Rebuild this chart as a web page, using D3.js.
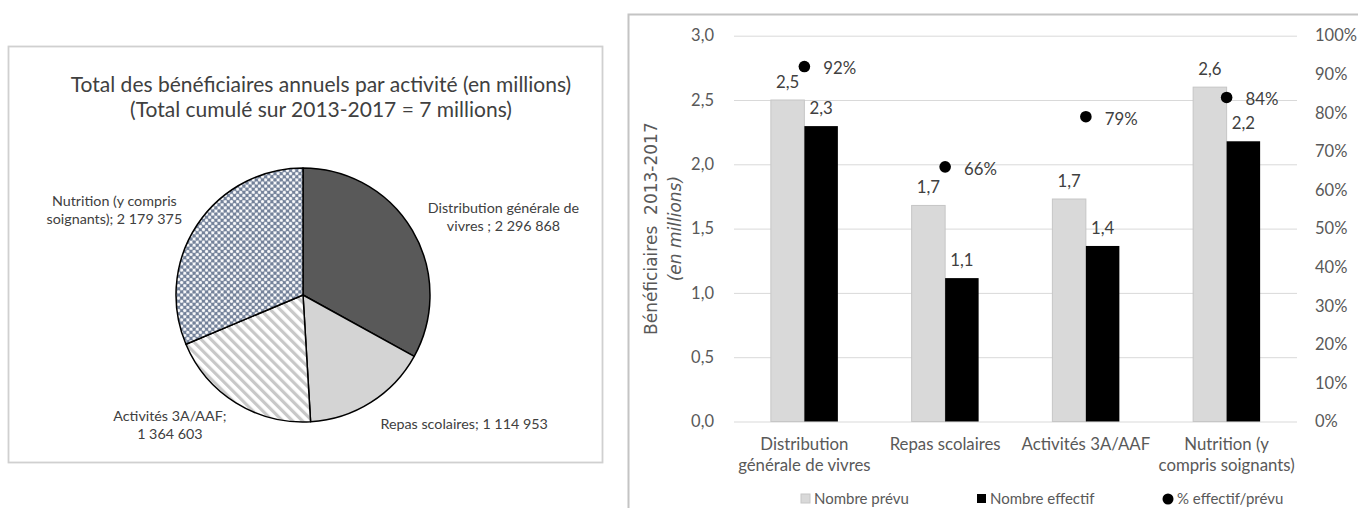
<!DOCTYPE html>
<html>
<head>
<meta charset="utf-8">
<script src="https://cdn.jsdelivr.net/npm/d3@7"></script>
<style>
  body { margin: 0; background: #fff; }
  svg { display: block; }
</style>
</head>
<body>
<svg id="chart" width="1358" height="508"></svg>
<script>
// ---- Data ----
const categories = ["Distribution générale de vivres", "Repas scolaires", "Activités 3A/AAF", "Nutrition (y compris soignants)"];
const categoryLines = [["Distribution", "générale de vivres"], ["Repas scolaires"], ["Activités 3A/AAF"], ["Nutrition (y", "compris soignants)"]];
// cumulative beneficiaries 2013-2017 per activity (pie)
const beneficiaries = [2296868, 1114953, 1364603, 2179375];
const pieLabelLines = [["Distribution générale de", "vivres ; {v}"], ["Repas scolaires; {v}"], ["Activités 3A/AAF;", "{v}"], ["Nutrition (y compris", "soignants); {v}"]];
const pieTitle = ["Total des bénéficiaires annuels par activité (en millions)", "(Total cumulé sur 2013-2017 = 7 millions)"];
// bar chart (millions) and achievement ratio
const planned = [2.50, 1.68, 1.73, 2.60];
const effective = [2.297, 1.115, 1.365, 2.179];
const ratio = [0.92, 0.66, 0.79, 0.84];
const leftTicks = [0, 0.5, 1, 1.5, 2, 2.5, 3];
const rightTicks = [0, 0.1, 0.2, 0.3, 0.4, 0.5, 0.6, 0.7, 0.8, 0.9, 1];
const seriesNames = ["Nombre prévu", "Nombre effectif", "% effectif/prévu"];
const yTitle = ["Bénéficiaires  2013-2017", "(en millions)"];

// ---- Formatting (French locale) ----
const fr = d3.formatLocale({ decimal: ",", thousands: "\u00a0", grouping: [3], currency: ["", " €"], percent: "%" });
const fmt1 = fr.format(".1f");
const fmtInt = fr.format(",d");
const fmtPct = fr.format(".0%");

const svg = d3.select("#chart");
const FONT = "Lato, 'Noto Sans', sans-serif";
const defs = svg.append("defs");

// Stripe pattern (wide downward diagonal)
const stripes = defs.append("pattern").attr("id", "stripes").attr("patternUnits", "userSpaceOnUse")
  .attr("width", 7).attr("height", 7).attr("patternTransform", "rotate(-45)");
stripes.append("rect").attr("width", 7).attr("height", 7).attr("fill", "#fff");
stripes.append("rect").attr("width", 3.2).attr("height", 7).attr("fill", "#c8c8c8");

// Small diamond grid pattern
const dots = defs.append("pattern").attr("id", "grid").attr("patternUnits", "userSpaceOnUse")
  .attr("width", 4.4).attr("height", 4.4).attr("patternTransform", "rotate(45)");
dots.append("rect").attr("width", 4.4).attr("height", 4.4).attr("fill", "#74829a");
dots.append("rect").attr("x", 0.9).attr("y", 0.9).attr("width", 2.6).attr("height", 2.6).attr("fill", "#f4f5f8");
dots.append("rect").attr("x", 0).attr("y", 1.8).attr("width", 4.4).attr("height", 0.8).attr("fill", "#ffffff").attr("opacity", 0.55);
dots.append("rect").attr("x", 1.8).attr("y", 0).attr("width", 0.8).attr("height", 4.4).attr("fill", "#ffffff").attr("opacity", 0.55);

// ================= PIE CHART =================
const pieBox = { x: 8, y: 46, w: 594, h: 416 };
svg.append("rect").attr("x", pieBox.x + 0.5).attr("y", pieBox.y + 0.5)
  .attr("width", pieBox.w).attr("height", pieBox.h)
  .attr("fill", "#fff").attr("stroke", "#d0d0d0").attr("stroke-width", 1.8);

const title = svg.append("text").attr("font-family", FONT).attr("font-size", 21)
  .attr("fill", "#404040").attr("text-anchor", "middle");
pieTitle.forEach((t, i) => title.append("tspan").attr("x", 321).attr("y", 92 + i * 25).text(t));

const pieCx = 303, pieCy = 295, pieR = 127;
const pieFills = ["#595959", "#d4d4d4", "url(#stripes)", "url(#grid)"];
const arcs = d3.pie().sort(null).value(d => d)(beneficiaries);
const arcGen = d3.arc().innerRadius(0).outerRadius(pieR);
const pieG = svg.append("g").attr("transform", `translate(${pieCx},${pieCy})`);
pieG.selectAll("path").data(arcs).join("path")
  .attr("d", arcGen).attr("fill", (d, i) => pieFills[i])
  .attr("stroke", "#000").attr("stroke-width", 1.5).attr("stroke-linejoin", "round");

// slice labels placed just outside each slice
arcs.forEach((a, i) => {
  const mid = (a.startAngle + a.endAngle) / 2;
  const R = pieR + 18;
  const px = pieCx + R * Math.sin(mid);
  const py = pieCy - R * Math.cos(mid) - 8 * Math.cos(mid);
  const lines = pieLabelLines[i].map(l => l.replace("{v}", fmtInt(beneficiaries[i])));
  const g = svg.append("text").attr("font-family", FONT).attr("font-size", 14.3)
    .attr("fill", "#404040").attr("text-anchor", "middle");
  const tsp = lines.map(l => g.append("tspan").text(l));
  const wMax = d3.max(tsp, t => t.node().getComputedTextLength());
  const right = Math.sin(mid) >= 0;
  const cx = right ? px + wMax / 2 : px - wMax / 2;
  const lh = 18;
  const y0 = py - (lines.length - 1) * lh / 2;
  tsp.forEach((t, k) => t.attr("x", cx).attr("y", y0 + k * lh).attr("dy", "0.35em"));
});

// ================= BAR CHART =================
const barBox = { x: 628, y: 14 };
svg.append("rect").attr("x", barBox.x + 0.5).attr("y", barBox.y + 0.5)
  .attr("width", 900).attr("height", 700)
  .attr("fill", "#fff").attr("stroke", "#c4c4c4").attr("stroke-width", 2);

const plot = { left: 734, right: 1297, top: 35.7, bottom: 421.5 };
const y = d3.scaleLinear().domain([0, 3]).range([plot.bottom, plot.top]);
const y2 = d3.scaleLinear().domain([0, 1]).range([plot.bottom, plot.top]);
const x0 = d3.scaleBand().domain(categories).range([plot.left, plot.right]).paddingInner(0.524).paddingOuter(0.262);
const x1 = d3.scaleBand().domain(["planned", "effective"]).range([0, x0.bandwidth()]);

// gridlines
svg.append("g").attr("transform", `translate(${plot.left},0)`)
  .call(d3.axisLeft(y).tickValues(leftTicks).tickSize(-(plot.right - plot.left)).tickFormat(""))
  .call(g => g.select(".domain").remove())
  .call(g => g.selectAll("line").attr("stroke", "#d9d9d9").attr("stroke-width", 1));

// left axis labels
svg.append("g").attr("transform", `translate(${plot.left},0)`)
  .call(d3.axisLeft(y).tickValues(leftTicks).tickSize(0).tickPadding(20).tickFormat(fmt1))
  .call(g => g.select(".domain").remove())
  .call(g => g.selectAll("text").attr("font-family", FONT).attr("font-size", 16.5).attr("fill", "#595959"));

// right axis labels
svg.append("g").attr("transform", `translate(${plot.right},0)`)
  .call(d3.axisRight(y2).tickValues(rightTicks).tickSize(0).tickPadding(18).tickFormat(fmtPct))
  .call(g => g.select(".domain").remove())
  .call(g => g.selectAll("text").attr("font-family", FONT).attr("font-size", 16.5).attr("fill", "#595959"));

// y axis title
const yt = svg.append("text").attr("transform", `translate(0,${(plot.top + plot.bottom) / 2}) rotate(-90)`)
  .attr("font-family", "'DejaVu Sans', sans-serif").attr("font-size", 17).attr("fill", "#595959")
  .attr("text-anchor", "middle").style("white-space", "pre");
yt.append("tspan").attr("x", 0).attr("y", 657).text(yTitle[0]);
yt.append("tspan").attr("x", 0).attr("y", 681).attr("font-style", "italic").text(yTitle[1]);

// bars
const barG = svg.append("g");
const groups = barG.selectAll("g").data(categories).join("g")
  .attr("transform", d => `translate(${x0(d)},0)`);
groups.append("rect")
  .attr("x", x1("planned")).attr("width", x1.bandwidth())
  .attr("y", (d, i) => y(planned[i])).attr("height", (d, i) => y(0) - y(planned[i]))
  .attr("fill", "#d9d9d9").attr("stroke", "#c6c6c6").attr("stroke-width", 1);
groups.append("rect")
  .attr("x", x1("effective")).attr("width", x1.bandwidth())
  .attr("y", (d, i) => y(effective[i])).attr("height", (d, i) => y(0) - y(effective[i]))
  .attr("fill", "#000");

// bar value labels
groups.append("text").attr("x", x1("planned") + x1.bandwidth() / 2)
  .attr("y", (d, i) => y(planned[i]) - 18).attr("dy", "0.35em")
  .attr("text-anchor", "middle").attr("font-family", FONT).attr("font-size", 16.8).attr("fill", "#404040")
  .text((d, i) => fmt1(planned[i]));
groups.append("text").attr("x", x1("effective") + x1.bandwidth() / 2)
  .attr("y", (d, i) => y(effective[i]) - 18).attr("dy", "0.35em")
  .attr("text-anchor", "middle").attr("font-family", FONT).attr("font-size", 16.8).attr("fill", "#404040")
  .text((d, i) => fmt1(effective[i]));

// ratio markers (right axis)
groups.append("circle").attr("cx", x0.bandwidth() / 2).attr("cy", (d, i) => y2(ratio[i]))
  .attr("r", 5.8).attr("fill", "#000");
groups.append("text").attr("x", x0.bandwidth() / 2 + 19).attr("y", (d, i) => y2(ratio[i]) + 2).attr("dy", "0.35em")
  .attr("font-family", FONT).attr("font-size", 16.8).attr("fill", "#404040")
  .text((d, i) => fmtPct(ratio[i]));

// category labels
categories.forEach((c, i) => {
  const t = svg.append("text").attr("text-anchor", "middle").attr("font-family", FONT)
    .attr("font-size", 16.8).attr("fill", "#595959");
  categoryLines[i].forEach((l, k) => t.append("tspan")
    .attr("x", x0(c) + x0.bandwidth() / 2).attr("y", 444 + k * 21).attr("dy", "0.35em").text(l));
});

// legend
const legendX = [801, 977, 1162];
const legendY = 499;
const lg = svg.append("g");
lg.append("rect").attr("x", legendX[0]).attr("y", legendY - 5).attr("width", 9).attr("height", 9)
  .attr("fill", "#d9d9d9").attr("stroke", "#c6c6c6");
lg.append("rect").attr("x", legendX[1]).attr("y", legendY - 5).attr("width", 9).attr("height", 9).attr("fill", "#000");
lg.append("circle").attr("cx", legendX[2] + 6).attr("cy", legendY).attr("r", 5.5).attr("fill", "#000");
seriesNames.forEach((s, i) => lg.append("text").attr("x", legendX[i] + (i === 2 ? 15 : 13)).attr("y", legendY)
  .attr("dy", "0.35em").attr("font-family", FONT).attr("font-size", 15).attr("fill", "#595959").text(s));
</script>
</body>
</html>
